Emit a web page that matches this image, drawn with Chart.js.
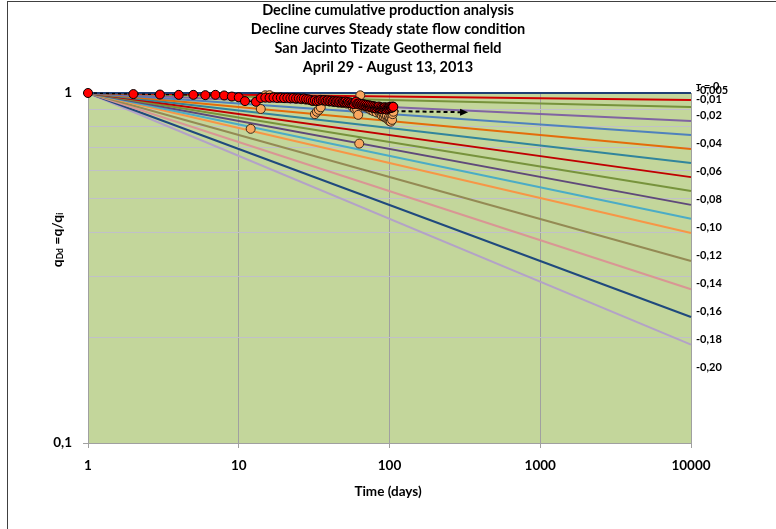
<!DOCTYPE html>
<html lang="en">
<head>
<meta charset="UTF-8" />
<title>Decline cumulative production analysis</title>
<script src="https://cdn.jsdelivr.net/npm/chart.js"></script>
<style>
  body { margin: 0; background: #fff; }
  #frame { position: absolute; left: 7px; top: 1px; width: 800px; height: 600px; border: 1px solid #404040; }
  #wrap { position: absolute; left: 0; top: 0; width: 776px; height: 529px; }
</style>
</head>
<body>
<div id="frame"></div>
<div id="wrap"><canvas id="chart"></canvas></div>
<script>
// axis ticks
const xTicks = [1, 10, 100, 1000, 10000];
const yTicks = [0.1, 0.2, 0.3, 0.4, 0.5, 0.6, 0.7, 0.8, 0.9, 1];
const yLabels = { 1: "1", 0.1: "0,1" };

const titleLines = [
  "Decline cumulative production analysis",
  "Decline curves Steady state flow condition",
  "San Jacinto Tizate Geothermal field",
  "April 29 - August 13, 2013"
];

// decline curves q = t^tau, value read at t = 10000
const curveTau = [0, -0.005, -0.01, -0.02, -0.03, -0.04, -0.05, -0.06, -0.07, -0.08, -0.09, -0.10, -0.12, -0.14, -0.16, -0.18];
const curveEnd = [1, 0.955, 0.912, 0.832, 0.759, 0.692, 0.631, 0.575, 0.525, 0.479, 0.437, 0.398, 0.331, 0.275, 0.229, 0.191];
const curveColors = ["#1F3F73", "#D00000", "#77933C", "#8064A2", "#4F81BD", "#E46C0A", "#31859C", "#C00000",
  "#77933C", "#5F497A", "#4BACC6", "#F79646", "#948A54", "#D99694", "#1F497D", "#B3A2C7"];

// right side labels
const tauLabelValue = [0, -0.005, -0.01, -0.02, -0.04, -0.06, -0.08, -0.10, -0.12, -0.14, -0.16, -0.18, -0.20];
const tauLabelText = ["τ = 0", "-0,005", "-0,01", "-0,02", "-0,04", "-0,06", "-0,08", "-0,10", "-0,12", "-0,14", "-0,16", "-0,18", "-0,20"];

// production data (days, q/qi)
const redDays = [1, 2, 3, 4, 5, 6, 7, 8, 9, 10, 11, 13,
  14, 15, 16, 17, 18, 19, 20, 21, 22, 23,
  24, 25, 26, 27, 28, 29, 30, 31, 32, 33,
  34, 35, 36, 37, 38, 39, 40, 41, 42, 43,
  44, 45, 46, 47, 48, 49, 50, 51, 52, 53,
  54, 55, 56, 57, 58, 59, 60, 61, 62, 63,
  64, 65, 66, 67, 68, 69, 70, 71, 72, 73,
  74, 75, 76, 77, 78, 79, 80, 81, 82, 83,
  84, 85, 86, 87, 88, 89, 90, 91, 92, 93,
  94, 95, 96, 97, 98, 99, 100, 101, 102, 103,
  104, 105, 106];
const redQ = [1.000, 0.993, 0.990, 0.988, 0.988, 0.986, 0.988, 0.984, 0.977, 0.972, 0.948, 0.944,
  0.968, 0.970, 0.969, 0.971, 0.968, 0.970, 0.967, 0.969, 0.966, 0.968,
  0.965, 0.966, 0.963, 0.965, 0.961, 0.959, 0.955, 0.950, 0.953, 0.948,
  0.951, 0.956, 0.953, 0.955, 0.950, 0.953, 0.948, 0.951, 0.945, 0.948,
  0.944, 0.947, 0.942, 0.946, 0.940, 0.944, 0.941, 0.945, 0.938, 0.942,
  0.936, 0.940, 0.933, 0.937, 0.930, 0.940, 0.945, 0.932, 0.928, 0.934,
  0.926, 0.931, 0.924, 0.929, 0.921, 0.926, 0.918, 0.924, 0.916, 0.922,
  0.912, 0.920, 0.910, 0.918, 0.908, 0.916, 0.905, 0.914, 0.903, 0.912,
  0.906, 0.915, 0.902, 0.910, 0.900, 0.909, 0.898, 0.907, 0.903, 0.911,
  0.900, 0.908, 0.897, 0.906, 0.902, 0.910, 0.904, 0.914, 0.906, 0.912,
  0.908, 0.915, 0.913];

const orangeDays = [12, 14, 15, 16, 17, 18, 19, 20, 22, 24, 26, 28, 30, 31, 32, 33, 34, 35,
  37, 40, 43, 46, 49, 52, 55, 57, 59, 60, 61, 62, 63, 64, 65, 68, 72, 75, 78, 80, 82, 85,
  87, 89, 90, 92, 93, 95, 96, 98, 99, 100, 101, 102, 103, 104, 105, 106];
const orangeQ = [0.790, 0.900, 0.985, 0.986, 0.975, 0.972, 0.970, 0.968, 0.966, 0.963, 0.960, 0.957, 0.953, 0.948, 0.870, 0.884, 0.895, 0.910,
  0.950, 0.945, 0.942, 0.938, 0.936, 0.933, 0.930, 0.912, 0.900, 0.920, 0.898, 0.866, 0.717, 0.985, 0.924, 0.915, 0.905, 0.895, 0.888, 0.895, 0.880, 0.885,
  0.872, 0.862, 0.878, 0.855, 0.868, 0.848, 0.860, 0.840, 0.852, 0.832, 0.845, 0.828, 0.862, 0.838, 0.870, 0.884];

// trend arrow
const arrowDays = [108, 303];
const arrowQ = [0.888, 0.881];

const FONT = "Lato";

function toPoints(xs, ys) {
  return xs.map((x, i) => ({ x: x, y: ys[i] }));
}

const datasets = [
  {
    data: toPoints(redDays, redQ),
    showLine: true,
    borderColor: "#000",
    borderWidth: 1.3,
    borderDash: [3, 3],
    pointRadius: 4.5,
    pointBackgroundColor: "#FF0000",
    pointBorderColor: "#000",
    pointBorderWidth: 1,
    clip: false,
    order: 0
  },
  {
    data: toPoints(orangeDays, orangeQ),
    showLine: false,
    pointRadius: 4.5,
    pointBackgroundColor: "#F9A75F",
    pointBorderColor: "#3a2a1a",
    pointBorderWidth: 1,
    clip: false,
    order: 1
  },
  {
    data: toPoints(arrowDays, arrowQ),
    showLine: true,
    borderColor: "#000",
    borderWidth: 2,
    borderDash: [4, 3],
    pointRadius: 0,
    clip: false,
    order: 2
  }
];

curveTau.forEach((tau, i) => {
  datasets.push({
    data: [{ x: 1, y: 1 }, { x: 10000, y: curveEnd[i] }],
    showLine: true,
    borderColor: curveColors[i],
    borderWidth: 2,
    pointRadius: 0,
    clip: false,
    order: 10 + i
  });
});

// green plot background
const plotBg = {
  id: "plotBg",
  beforeDraw(chart) {
    const a = chart.chartArea;
    const ctx = chart.ctx;
    ctx.save();
    ctx.fillStyle = "#C3D69B";
    ctx.fillRect(a.left, a.top, a.right - a.left, a.bottom - a.top);
    ctx.restore();
  }
};

// titles, labels and arrow head
const texts = {
  id: "texts",
  afterDraw(chart) {
    const ctx = chart.ctx;
    const x = chart.scales.x;
    const y = chart.scales.y;
    const a = chart.chartArea;
    ctx.save();
    ctx.fillStyle = "#000";
    ctx.textBaseline = "middle";

    // title
    ctx.textAlign = "center";
    ctx.font = "bold 14.5px " + FONT;
    titleLines.forEach((line, i) => ctx.fillText(line, 388, 10.5 + i * 19));

    // x axis title
    ctx.font = "bold 13.5px " + FONT;
    ctx.fillText("Time (days)", 388, 492);

    // tau labels
    ctx.textAlign = "left";
    ctx.font = "bold 11px " + FONT;
    tauLabelValue.forEach((tau, i) => {
      let py = y.getPixelForValue(Math.pow(10000, tau)) - 6;
      if (i === 0) py -= 1;
      if (i === 1) py -= 4;
      if (i === 2) py -= 1.5;
      ctx.fillText(tauLabelText[i], a.right + 5, py);
    });

    // y axis title with subscripts
    ctx.translate(57, 240);
    ctx.rotate(-Math.PI / 2);
    const parts = [["q", false], ["Dd", true], [" =q/q", false], ["i", true]];
    const big = "bold 14px " + FONT;
    const small = "bold 8.5px " + FONT;
    let total = 0;
    parts.forEach(p => { ctx.font = p[1] ? small : big; total += ctx.measureText(p[0]).width; });
    let cx = -total / 2;
    ctx.textAlign = "left";
    parts.forEach(p => {
      ctx.font = p[1] ? small : big;
      ctx.fillText(p[0], cx, p[1] ? 3.5 : 0);
      cx += ctx.measureText(p[0]).width;
    });
    ctx.setTransform(1, 0, 0, 1, 0, 0);

    // arrow head
    const ex = x.getPixelForValue(arrowDays[1]);
    const ey = y.getPixelForValue(arrowQ[1]);
    ctx.beginPath();
    ctx.moveTo(ex + 6, ey);
    ctx.lineTo(ex - 2, ey - 3.5);
    ctx.lineTo(ex - 2, ey + 3.5);
    ctx.closePath();
    ctx.fill();
    ctx.restore();
  }
};

new Chart(document.getElementById("chart"), {
  type: "scatter",
  data: { datasets: datasets },
  options: {
    responsive: true,
    maintainAspectRatio: false,
    animation: false,
    layout: { padding: { top: 93, left: 43, right: 85, bottom: 0 } },
    plugins: {
      legend: { display: false },
      tooltip: { enabled: false },
      title: { display: false }
    },
    scales: {
      x: {
        type: "logarithmic",
        min: 1,
        max: 10000,
        afterBuildTicks(scale) {
          scale.ticks = xTicks.map(v => ({ value: v }));
        },
        afterFit(scale) {
          scale.height = 86;
        },
        ticks: {
          autoSkip: false,
          maxRotation: 0,
          padding: 10,
          color: "#000",
          font: { family: FONT, size: 13.5, weight: "bold" },
          callback: v => String(v)
        },
        grid: {
          color: c => (c.tick && c.tick.value === 1 ? "rgba(0,0,0,0)" : "#A0A0A0"),
          tickColor: "#A0A0A0",
          tickLength: 5
        },
        border: { color: "#A0A0A0" }
      },
      y: {
        type: "logarithmic",
        min: 0.1,
        max: 1,
        afterBuildTicks(scale) {
          scale.ticks = yTicks.map(v => ({ value: v }));
        },
        afterFit(scale) {
          scale.width = 45;
        },
        ticks: {
          autoSkip: false,
          padding: 11,
          color: "#000",
          font: { family: FONT, size: 13.5, weight: "bold" },
          callback: v => yLabels[v] || ""
        },
        grid: {
          color: c => (c.tick && yLabels[c.tick.value] ? "rgba(0,0,0,0)" : "#C0C0C8"),
          tickColor: c => (c.tick && yLabels[c.tick.value] ? "#A0A0A0" : "rgba(0,0,0,0)"),
          tickLength: 5
        },
        border: { color: "#A0A0A0" }
      }
    }
  },
  plugins: [plotBg, texts]
});
</script>
</body>
</html>
